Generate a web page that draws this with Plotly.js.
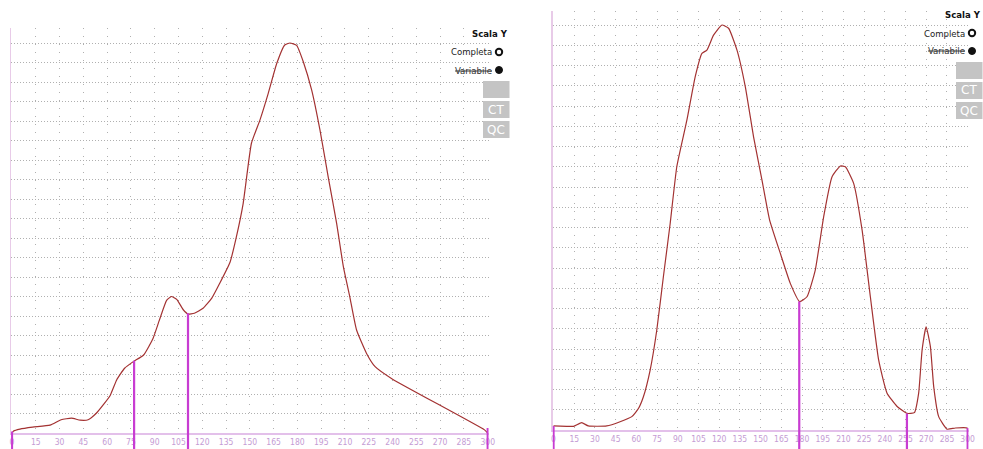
<!DOCTYPE html>
<html>
<head>
<meta charset="utf-8">
<script src="https://cdn.plot.ly/plotly-3.0.1.min.js"></script>
<style>
html,body{margin:0;padding:0;background:#fff;}
#chart{width:983px;height:449px;}
</style>
</head>
<body>
<div id="chart"></div>
<script>
// ---------------- data ----------------
// Left densitometry trace (x: position 0-300, y: % of the highest peak)
const leftX = [0, 1, 5, 13, 24, 31, 37.5, 43, 48, 53, 57.5, 62, 66, 71, 76.5, 83, 89, 93, 97.5, 100.5, 104, 108, 111, 115, 120.5, 126, 131, 137.5, 141.5, 145.8, 151, 156.4, 161.6, 167, 172, 175.3, 179.5, 183.7, 189, 194.2, 199.4, 204.7, 209, 213, 217.3, 223.6, 229, 240, 298, 300];
const leftY = [0, 0.5, 1.0, 1.5, 2.0, 3.4, 3.8, 3.3, 3.4, 5.0, 7.2, 9.7, 13.6, 16.6, 18.3, 20.0, 24.3, 29.0, 34.0, 35.0, 34.2, 31.6, 30.5, 30.7, 32.0, 34.6, 38.4, 43.8, 50.3, 58.9, 74.3, 80.3, 87.1, 94.8, 99.5, 100, 99.4, 95.2, 87.9, 77.7, 65.7, 53.8, 42.6, 35.0, 26.4, 20.4, 17.0, 13.8, 0.8, 0];
// Right densitometry trace
const rightX = [0, 9.6, 14.5, 20.4, 25.2, 38.6, 48.2, 56.7, 61.5, 65.1, 70, 74.8, 79.6, 84.5, 89.3, 96.6, 102.6, 107.5, 111.1, 115.9, 122, 126.8, 132.9, 138.9, 144.9, 151, 156.5, 164.3, 171.5, 178.3, 183.6, 189.6, 195.7, 201.7, 207.8, 211.4, 217.4, 223.5, 229.5, 235.5, 241.6, 248.9, 256.1, 261.4, 264.5, 267, 269.9, 273, 275.4, 279, 285.1, 291.1, 299.6, 300];
const rightY = [1.0, 0.9, 0.9, 1.8, 1.0, 1.0, 2.05, 3.3, 5.3, 8.2, 14.8, 24.7, 37.9, 51.0, 65.0, 76.5, 87.2, 93.0, 93.8, 97.5, 100, 99.2, 93.8, 84.8, 72.4, 61.7, 51.9, 43.6, 36.2, 31.7, 32.9, 39.5, 52.7, 62.5, 65.2, 65.0, 60.9, 49.4, 32.9, 17.3, 9.1, 5.8, 4.1, 4.3, 9.1, 19.8, 25.5, 20.6, 10.7, 3.3, 0.2, 0.5, 0.5, 0];
// fraction boundaries (x) and the curve height where each boundary line stops
const leftCuts = [0, 77, 111, 300];
const leftCutTops = [0.4, 18.5, 30.7, 1.3];
const rightCuts = [0, 178, 256, 300];
const rightCutTops = [1.0, 31.7, 4.1, 0.5];
// x tick labels
const tickVals = [0, 15, 30, 45, 60, 75, 90, 105, 120, 135, 150, 165, 180, 195, 210, 225, 240, 255, 270, 285, 300];
const tickText = tickVals.map(String);
// side panel texts
const scaleTitle = 'Scala Y';
const scaleOptions = ['Completa', 'Variabile'];
const buttons = ['', 'CT', 'QC'];

// ---------------- layout helpers ----------------
const W = 983, H = 449;
const px = v => v / W;
const py = v => 1 - v / H;

const curveColor = '#a33232';
const cutColor = '#c83cd2';
const axisPink = '#e3c0ea';
const gridGray = '#b0b0b0';
const tickColor = '#c49bd4';
const narrowFont = '"Liberation Sans Narrow", "DejaVu Sans Condensed", "Roboto Condensed", sans-serif';

const xCommon = {
  range: [-0.6, 300.6],
  tickmode: 'array', tickvals: tickVals, ticktext: tickText,
  ticks: '', showgrid: true, gridcolor: gridGray, griddash: '1px,7px', gridwidth: 1,
  showline: true, linecolor: axisPink, linewidth: 1.5,
  zeroline: false, fixedrange: true,
  tickfont: {family: narrowFont, size: 8.5, color: tickColor}
};
const yCommon = {
  dtick: 5, tick0: 0, showticklabels: false, ticks: '',
  showgrid: true, gridcolor: gridGray, griddash: '1px,2px', gridwidth: 1,
  showline: true, linecolor: '#e8cbe8', linewidth: 1.5,
  zeroline: false, fixedrange: true
};

const panels = [
  {xa: 'x', ya: 'y', xd: [px(11.05), px(488.65)], yd: [py(433), py(28)], yr: 103.85, X: leftX, Y: leftY, cuts: leftCuts, tops: leftCutTops, dx: 0, dy: 0},
  {xa: 'x2', ya: 'y2', xd: [px(552.7), px(968.5)], yd: [py(430), py(11)], yr: 103.46, X: rightX, Y: rightY, cuts: rightCuts, tops: rightCutTops, dx: 473, dy: -19}
];

const traces = [];
const shapes = [];
const annotations = [];

panels.forEach(p => {
  traces.push({
    type: 'scatter', mode: 'lines', x: p.X, y: p.Y, xaxis: p.xa, yaxis: p.ya,
    line: {color: curveColor, width: 1.2, shape: 'spline', smoothing: 0.45},
    hoverinfo: 'x+y', showlegend: false
  });
  p.cuts.forEach((c, i) => {
    // part above the baseline, in data coordinates
    shapes.push({type: 'line', xref: p.xa, yref: p.ya, x0: c, x1: c, y0: 0, y1: p.tops[i],
      line: {color: cutColor, width: 2.2}, layer: 'above'});
    // part below the baseline, down to the window edge
    shapes.push({type: 'line', xref: p.xa, yref: 'paper', x0: c, x1: c, y0: -0.01, y1: p.yd[0],
      line: {color: cutColor, width: 2.2}, layer: 'above'});
  });
  // side controls
  annotations.push({xref: 'paper', yref: 'paper', x: px(509.5 + p.dx), y: py(34 + p.dy), xanchor: 'right', yanchor: 'middle',
    text: '<b>' + scaleTitle + '</b>', showarrow: false, font: {family: 'DejaVu Sans Condensed, sans-serif', size: 9.5, color: '#111'}});
  annotations.push({xref: 'paper', yref: 'paper', x: px(494 + p.dx), y: py(52 + p.dy), xanchor: 'right', yanchor: 'middle',
    text: scaleOptions[0], showarrow: false, font: {family: narrowFont, size: 9.5, color: '#222'}});
  annotations.push({xref: 'paper', yref: 'paper', x: px(494 + p.dx), y: py(70 + p.dy), xanchor: 'right', yanchor: 'middle',
    text: '<s>' + scaleOptions[1] + '</s>', showarrow: false, font: {family: narrowFont, size: 9.5, color: '#333'}});
  shapes.push({type: 'circle', xref: 'paper', yref: 'paper', x0: px(495.8 + p.dx), x1: px(502.2 + p.dx), y0: py(55.2 + p.dy), y1: py(48.8 + p.dy),
    line: {color: '#111', width: 2}, fillcolor: 'rgba(0,0,0,0)'});
  shapes.push({type: 'circle', xref: 'paper', yref: 'paper', x0: px(495.5 + p.dx), x1: px(502.5 + p.dx), y0: py(73.5 + p.dy), y1: py(66.5 + p.dy),
    line: {color: '#111', width: 1}, fillcolor: '#111'});
  const boxTops = [81, 101, 121];
  buttons.forEach((b, i) => {
    const t = boxTops[i] + p.dy;
    shapes.push({type: 'rect', xref: 'paper', yref: 'paper', x0: px(483 + p.dx), x1: px(509.5 + p.dx), y0: py(t + 17), y1: py(t),
      line: {width: 0}, fillcolor: '#c4c4c4'});
    if (b) annotations.push({xref: 'paper', yref: 'paper', x: px(496 + p.dx), y: py(t + 8.5), xanchor: 'center', yanchor: 'middle',
      text: b, showarrow: false, font: {family: 'DejaVu Sans, sans-serif', size: 12, color: '#ffffff'}});
  });
});

const layout = {
  width: W, height: H,
  margin: {l: 0, r: 0, t: 0, b: 0, pad: 0},
  paper_bgcolor: '#ffffff', plot_bgcolor: '#ffffff',
  showlegend: false,
  xaxis: Object.assign({}, xCommon, {domain: panels[0].xd, anchor: 'y'}),
  yaxis: Object.assign({}, yCommon, {domain: panels[0].yd, range: [0, panels[0].yr], anchor: 'x'}),
  xaxis2: Object.assign({}, xCommon, {domain: panels[1].xd, anchor: 'y2'}),
  yaxis2: Object.assign({}, yCommon, {domain: panels[1].yd, range: [0, panels[1].yr], anchor: 'x2'}),
  shapes: shapes,
  annotations: annotations
};

Plotly.newPlot('chart', traces, layout, {displayModeBar: false, staticPlot: true});
</script>
</body>
</html>
